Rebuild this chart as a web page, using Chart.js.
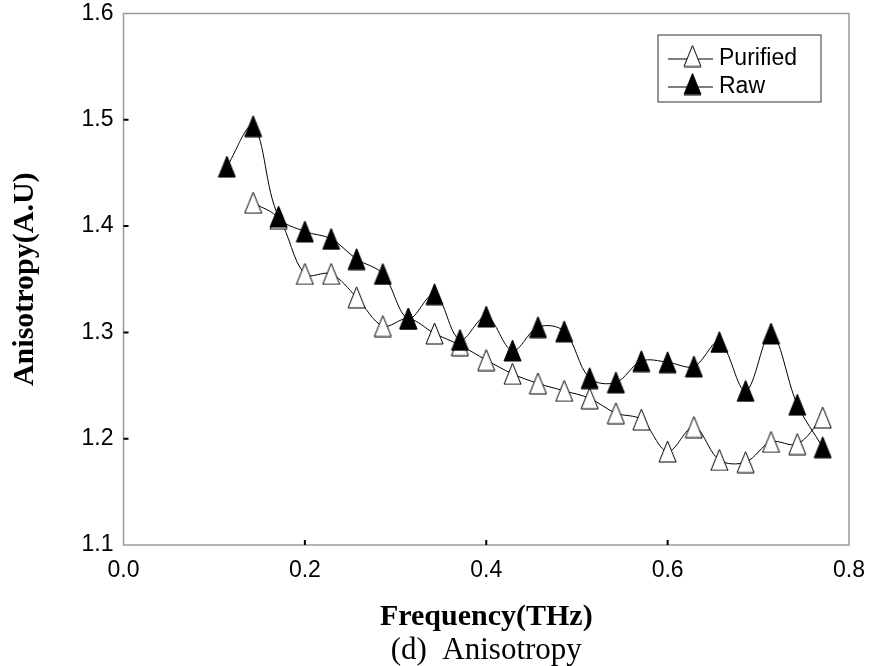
<!DOCTYPE html>
<html>
<head>
<meta charset="utf-8">
<script src="https://cdn.jsdelivr.net/npm/chart.js@4.4.1/dist/chart.umd.min.js"></script>
<style>
    body { margin: 0; background: #fff; }
    #wrap { width: 871px; height: 666px; }
</style>
</head>
<body>
<div id="wrap"><canvas id="anisotropy" width="871" height="666"></canvas></div>
<script>
// data
const seriesNames = ['Purified', 'Raw'];
const rawFreq = [0.114, 0.143, 0.171, 0.200, 0.229, 0.257, 0.286, 0.314, 0.343, 0.371, 0.400, 0.429,
                 0.457, 0.486, 0.514, 0.543, 0.571, 0.600, 0.629, 0.657, 0.686, 0.714, 0.743, 0.771];
const rawValues = [1.456, 1.494, 1.409, 1.395, 1.388, 1.369, 1.355, 1.313, 1.336, 1.293, 1.315, 1.283,
                   1.305, 1.301, 1.257, 1.253, 1.273, 1.272, 1.268, 1.291, 1.245, 1.299, 1.232, 1.192];
const purifiedFreq = [0.143, 0.171, 0.200, 0.229, 0.257, 0.286, 0.314, 0.343, 0.371, 0.400, 0.429,
                      0.457, 0.486, 0.514, 0.543, 0.571, 0.600, 0.629, 0.657, 0.686, 0.714, 0.743, 0.771];
const purifiedValues = [1.422, 1.407, 1.355, 1.355, 1.333, 1.306, 1.313, 1.299, 1.288, 1.274, 1.261,
                        1.252, 1.245, 1.238, 1.224, 1.218, 1.188, 1.211, 1.180, 1.178, 1.197, 1.195, 1.220];
const xTickLabels = ['0.0', '0.2', '0.4', '0.6', '0.8'];
const yTickLabels = ['1.1', '1.2', '1.3', '1.4', '1.5', '1.6'];

const SANS = "'Liberation Sans', Arial, sans-serif";
const SERIF = "'Liberation Serif', 'Times New Roman', serif";

// triangle marker as a small canvas
function makeTriangle(fill) {
    const c = document.createElement('canvas');
    c.width = 19;
    c.height = 23;
    const g = c.getContext('2d');
    g.beginPath();
    g.moveTo(9.5, 1);
    g.lineTo(18, 22);
    g.lineTo(1, 22);
    g.closePath();
    g.fillStyle = fill;
    g.fill();
    g.lineWidth = 1;
    g.strokeStyle = '#000';
    g.stroke();
    return c;
}

const openTri = makeTriangle('#fff');
const solidTri = makeTriangle('#000');

const toPoints = (xs, ys) => xs.map((x, i) => ({ x: x, y: ys[i] }));

// keep the plot box fixed, no room reserved for edge labels
const noEdgePadding = (scale) => {
    scale.paddingLeft = 0;
    scale.paddingRight = 0;
    scale.paddingTop = 0;
    scale.paddingBottom = 0;
};

// frame, inward ticks and boxed legend
const framePlugin = {
    id: 'frame',
    beforeDatasetsDraw(chart) {
        const { ctx, chartArea: a, scales } = chart;
        ctx.save();
        ctx.strokeStyle = '#9a9a9a';
        ctx.lineWidth = 1.5;
        ctx.strokeRect(a.left, a.top, a.right - a.left, a.bottom - a.top);

        ctx.strokeStyle = '#000';
        ctx.lineWidth = 2;
        ctx.beginPath();
        scales.x.ticks.forEach(t => {
            if (t.value <= scales.x.min || t.value >= scales.x.max) return;
            const px = scales.x.getPixelForValue(t.value);
            ctx.moveTo(px, a.bottom);
            ctx.lineTo(px, a.bottom - 5);
        });
        scales.y.ticks.forEach(t => {
            if (t.value <= scales.y.min + 1e-9 || t.value >= scales.y.max - 1e-9) return;
            const py = scales.y.getPixelForValue(t.value);
            ctx.moveTo(a.left, py);
            ctx.lineTo(a.left + 5, py);
        });
        ctx.stroke();
        ctx.restore();
    },
    afterDraw(chart) {
        const { ctx, chartArea: a } = chart;
        const boxW = 163, boxH = 67;
        const bx = a.right - 28 - boxW;
        const by = a.top + 21.5;
        ctx.save();
        ctx.strokeStyle = '#333';
        ctx.lineWidth = 1;
        ctx.strokeRect(bx, by, boxW, boxH);
        ctx.font = '23px ' + SANS;
        ctx.fillStyle = '#000';
        ctx.textBaseline = 'alphabetic';
        chart.data.datasets.forEach((ds, i) => {
            const cy = by + 21 + i * 28;
            ctx.beginPath();
            ctx.moveTo(bx + 10, cy + 3);
            ctx.lineTo(bx + 55, cy + 3);
            ctx.lineWidth = 1;
            ctx.strokeStyle = '#000';
            ctx.stroke();
            const img = ds.pointStyle;
            ctx.drawImage(img, bx + 34.5 - img.width / 2, cy - img.height / 2);
            ctx.fillText(ds.label, bx + 61, cy + 9);
        });
        ctx.restore();
    }
};

new Chart(document.getElementById('anisotropy').getContext('2d'), {
    type: 'line',
    data: {
        datasets: [{
            label: seriesNames[0],
            data: toPoints(purifiedFreq, purifiedValues),
            borderColor: '#000',
            borderWidth: 1,
            tension: 0.35,
            pointStyle: openTri,
            pointRadius: 9,
            order: 1
        }, {
            label: seriesNames[1],
            data: toPoints(rawFreq, rawValues),
            borderColor: '#000',
            borderWidth: 1,
            tension: 0.35,
            pointStyle: solidTri,
            pointRadius: 9,
            order: 0
        }]
    },
    options: {
        responsive: false,
        animation: false,
        layout: {
            padding: { left: 0, right: 22, top: 13.5, bottom: 0 }
        },
        plugins: {
            legend: { display: false },
            tooltip: { enabled: false },
            title: {
                display: true,
                position: 'bottom',
                fullSize: false,
                text: '(d)  Anisotropy',
                color: '#000',
                font: { family: SERIF, size: 31, weight: 'normal', lineHeight: 1.0 },
                padding: { top: 0, bottom: 0 }
            }
        },
        scales: {
            x: {
                type: 'linear',
                min: 0,
                max: 0.8,
                grid: { display: false, drawTicks: false },
                border: { display: false },
                ticks: {
                    stepSize: 0.2,
                    padding: 12,
                    color: '#000',
                    font: { family: SANS, size: 23 },
                    callback: (v) => xTickLabels[Math.round(v / 0.2)]
                },
                title: {
                    display: true,
                    text: 'Frequency(THz)',
                    color: '#000',
                    font: { family: SERIF, size: 30, weight: 'bold' },
                    padding: { top: 0, bottom: 0 }
                },
                afterFit: (scale) => {
                    scale.height = 90;
                    noEdgePadding(scale);
                }
            },
            y: {
                type: 'linear',
                min: 1.1,
                max: 1.6,
                grid: { display: false, drawTicks: false },
                border: { display: false },
                ticks: {
                    stepSize: 0.1,
                    padding: 10,
                    color: '#000',
                    font: { family: SANS, size: 23 },
                    callback: (v) => yTickLabels[Math.round((v - 1.1) / 0.1)]
                },
                title: {
                    display: true,
                    text: 'Anisotropy(A.U)',
                    color: '#000',
                    font: { family: SERIF, size: 30, weight: 'bold' },
                    padding: { top: 7, bottom: 0 }
                },
                afterFit: (scale) => {
                    scale.width = 123.5;
                    noEdgePadding(scale);
                }
            }
        }
    },
    plugins: [framePlugin]
});
</script>
</body>
</html>
